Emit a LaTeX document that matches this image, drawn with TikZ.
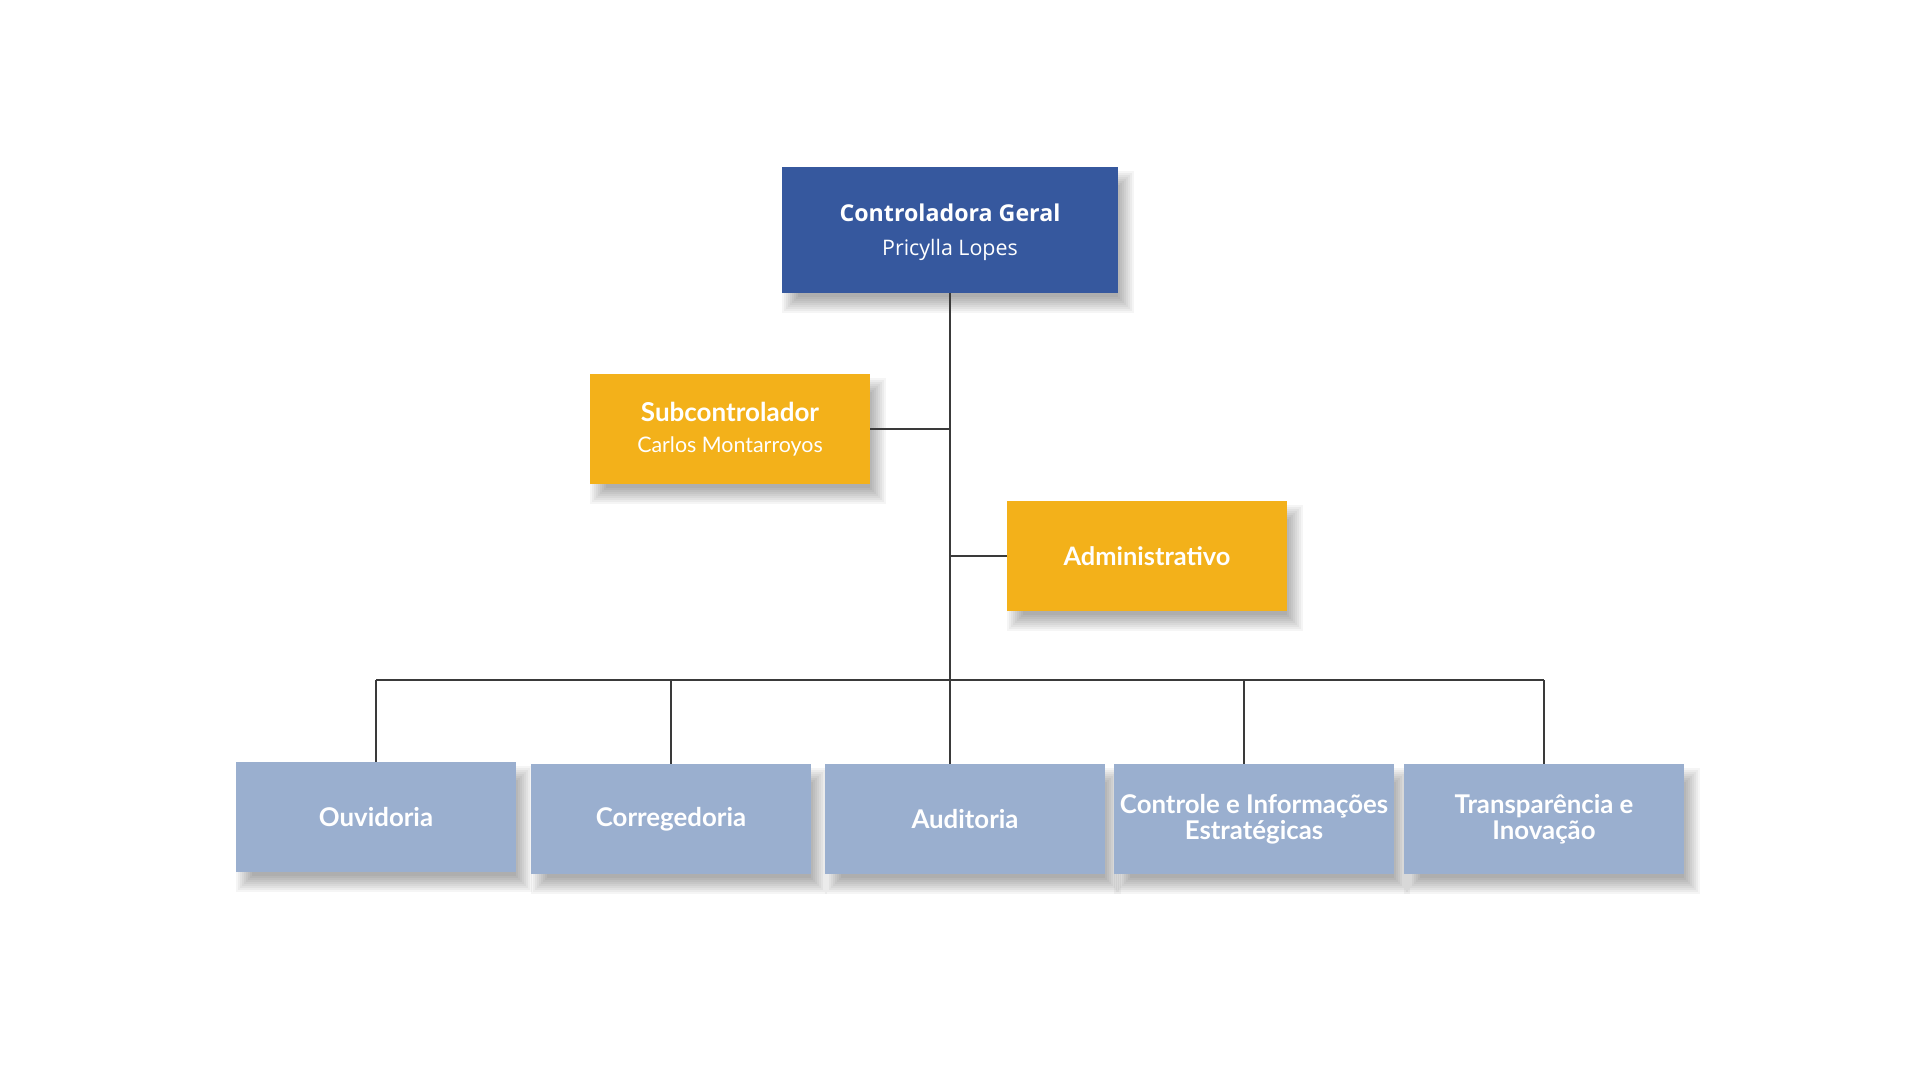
\documentclass[tikz,border=0pt]{standalone}
\usepackage{fontspec}
\setmainfont{Lato}
\newfontfamily\plexfont{Open Sans}
\pgfdeclarelayer{fundo}
\pgfdeclarelayer{sombra}
\pgfsetlayers{fundo,sombra,main}
\definecolor{azulescuro}{HTML}{36589E}
\definecolor{amarelo}{HTML}{F3B11A}
\definecolor{azulclaro}{HTML}{9AAFCF}
\definecolor{linha}{HTML}{3A3A3A}

\begin{document}
\begin{tikzpicture}[x=0.5pt, y=-0.5pt,
  every node/.style = {shape=rectangle, align=center, text=white,
    inner sep=0pt, minimum width=140pt, minimum height=55pt},
  chefe/.style = {fill=azulescuro, minimum width=168pt, minimum height=63pt,
    text depth=0pt, font=\plexfont\fontsize{11.6}{17}\selectfont},
  adjunto/.style = {fill=amarelo, font=\fontsize{13}{15.5}\selectfont},
  setor/.style = {fill=azulclaro, font=\bfseries\fontsize{12.9}{13}\selectfont},
  liga/.style = {draw=linha, line width=0.6pt},
  sombra/.style = {fill=black, opacity=0.038}]
  \useasboundingbox (0,0) rectangle (1920,1080);
  \begin{pgfonlayer}{fundo}
    \fill[white] (0,0) rectangle (1920,1080);
  \end{pgfonlayer}

  \node[chefe] (geral) at (950,230) {\textbf{Controladora Geral}\\
    \fontsize{10.7}{17}\selectfont Pricylla Lopes};
  \node[adjunto] (sub) at (730,429) {\textbf{Subcontrolador}\\
    \fontsize{10.7}{15.5}\selectfont Carlos Montarroyos};
  \node[adjunto, font=\bfseries\fontsize{12.7}{15.5}\selectfont] (adm) at (1147,556) {Administrativo};

  \node[setor] (ouv) at (376,817) {Ouvidoria};
  \node[setor] (cor) at (671,819) {Corregedoria};
  \node[setor] (aud) at (965,819) {Auditoria};
  \node[setor] (con) at (1254,819) {Controle e Informações\\Estratégicas};
  \node[setor] (tra) at (1544,819) {Transparência e\\Inovação};

  \begin{pgfonlayer}{sombra}
    \foreach \n in {geral,sub,adm,ouv,cor,aud,con,tra}
      \foreach \r in {0,...,8}
        \fill[sombra] ([xshift={(8-\r)*1pt}, yshift={(\r-10)*1pt}]\n.north west)
          rectangle ([xshift={(\r)*1pt}, yshift={(-2-\r)*1pt}]\n.south east);
  \end{pgfonlayer}

  \coordinate (barra) at (950,680);
  \draw[liga] (geral.south) -- (barra);
  \draw[liga] (sub.east) -- (sub.east -| geral.south);
  \draw[liga] (adm.west) -- (adm.west -| geral.south);
  \draw[liga] (ouv.north |- barra) -- (tra.north |- barra);
  \draw[liga] (ouv.north |- barra) -- (ouv.north);
  \draw[liga] (cor.north |- barra) -- (cor.north);
  \draw[liga] (barra) -- (barra |- aud.north);
  \draw[liga] ([xshift=-5pt]con.north |- barra) -- ([xshift=-5pt]con.north);
  \draw[liga] (tra.north |- barra) -- (tra.north);
\end{tikzpicture}
\end{document}
